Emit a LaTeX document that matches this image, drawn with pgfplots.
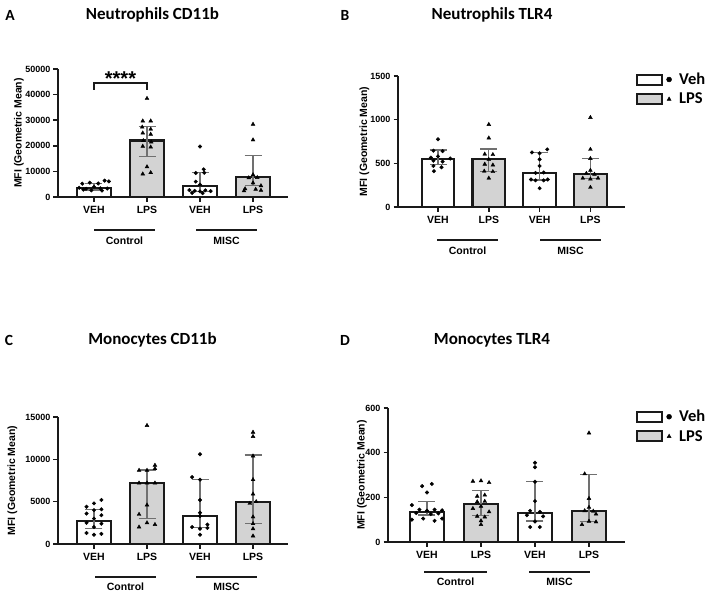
\documentclass[border=0pt]{standalone}
\usepackage{fontspec}
\setmainfont{Liberation Sans}
\newfontfamily\calfont{Carlito}
\usepackage{pgfplots}
\pgfplotsset{compat=1.18}

\definecolor{barline}{HTML}{1A1A1A}
\definecolor{lpsfill}{HTML}{D3D3D3}
\definecolor{errgray}{HTML}{707070}
\newcommand{\fs}[1]{\fontsize{#1}{#1}\selectfont}

\pgfplotsset{
  panel/.style={
    scale only axis, clip=false,
    axis x line=bottom, axis y line=left,
    axis line style={-, line width=2pt, barline},
    ymin=0, enlargelimits=false,
    xtick={1,2,3,4}, xticklabels={VEH,LPS,VEH,LPS},
    tick align=outside, major tick length=4.5pt,
    tick style={line width=1.5pt, barline},
    xticklabel style={font=\bfseries\fs{10.5}, yshift=-1.5pt},
    yticklabel style={font=\bfseries\fs{9}, xshift=0.5pt},
    /pgf/number format/assume math mode=true,
    /pgf/number format/1000 sep={},
    scaled y ticks=false,
    ylabel={MFI (Geometric Mean)},
    every axis y label/.style={rotate=90, anchor=center, font=\bfseries\fs{10.5}},
  },
  barveh/.style={ybar, bar shift=0pt, draw=barline, line width=2.2pt, fill=white, forget plot},
  barlps/.style={ybar, bar shift=0pt, draw=barline, line width=2.2pt, fill=lpsfill, forget plot},
  err/.style={draw=none, mark=none, forget plot,
    error bars/.cd, y dir=both, y explicit,
    error bar style={draw=errgray, line width=1.1pt},
    error mark options={rotate=90, mark size=8.5pt, draw=errgray, line width=1.1pt}},
  dots/.style={only marks, mark=*, mark size=1.8pt, black, forget plot},
  tris/.style={only marks, mark=triangle*, mark size=2.2pt, black, forget plot},
  lgd/.style={legend style={at={#1}, anchor=north west, draw=none, fill=none,
    font=\calfont\bfseries\fs{16.5}, row sep=3pt, inner sep=0pt,
    /tikz/every odd column/.append style={column sep=5.5pt}},
    legend cell align=left},
}
\newcommand{\legendpair}{%
  \addlegendimage{legend image code/.code={\draw[line width=2pt, draw=barline, fill=white] (0pt,-5pt) rectangle (25pt,5pt); \draw[black, mark=*, mark size=2.5pt] plot coordinates {(32pt,0pt)};}}
  \addlegendentry{Veh}
  \addlegendimage{legend image code/.code={\draw[line width=2pt, draw=barline, fill=lpsfill] (0pt,-5pt) rectangle (25pt,5pt); \draw[black, mark=triangle*, mark size=2.3pt] plot coordinates {(32pt,0pt)};}}
  \addlegendentry{LPS}
}

\begin{document}
\begin{tikzpicture}
\path[use as bounding box] (0pt,0pt) rectangle (708pt,-594pt);

% ---------------- A: Neutrophils CD11b
\begin{axis}[panel, at={(58pt,-197pt)}, anchor=south west,
  width=230pt, height=128pt, xmin=0.321, xmax=4.66, ymax=50000,
  ytick={0,10000,...,50000}, bar width=0.645,
  ylabel style={at={(axis description cs:-0.17,0.5)}}]
  \addplot[barveh] coordinates {(1,3640) (3,4300)};
  \addplot[barlps] coordinates {(2,22100) (4,7950)};
  \addplot[err] coordinates {(1,3640) += (0,1710) -= (0,910)
    (2,22100) += (0,5500) -= (0,6350)
    (3,4300) += (0,5400) -= (0,2300)
    (4,7950) += (0,8150) -= (0,3550)};
  \addplot[dots] coordinates {(0.78,5200)(0.92,5600)(1.08,5300)(1.2,6400)(1.28,6100)(0.72,3600)(0.85,3200)(1.0,3900)(1.12,3400)(1.25,3300)(0.8,2900)(0.95,2600)(1.15,2500)};
  \addplot[tris] coordinates {(2,38500)(1.92,29700)(2.07,29700)(1.91,27300)(2.07,26500)(1.92,25000)(2.07,24500)(1.93,22000)(2.08,21500)(1.92,19800)(2.07,19500)(2,11800)(1.92,9000)(2.07,9500)};
  \addplot[dots] coordinates {(3,19700)(2.92,9400)(3.07,10800)(3.08,9500)(2.92,6000)(3,4800)(2.8,2700)(2.9,2400)(3,2200)(3.1,2600)(3.2,2300)(2.85,1600)(3.05,1500)};
  \addplot[tris] coordinates {(4,28400)(4,22300)(4,8700)(3.92,7500)(4.08,7600)(4,5500)(4.15,4400)(3.85,3200)(4.15,2600)(3.83,2400)(4.05,3000)};
  \draw[line width=1.3pt, barline] (axis cs:1,41900) |- (axis cs:2,44500) -| (axis cs:2,41900);
  \node[font=\bfseries\fs{20}] at (axis cs:1.5,46100) {****};
\end{axis}

% ---------------- B: Neutrophils TLR4
\begin{axis}[panel, at={(398pt,-207pt)}, anchor=south west,
  width=227pt, height=131pt, xmin=0.2126, xmax=4.681, ymax=1500,
  ytick={0,500,1000,1500}, bar width=0.643,
  ylabel style={at={(axis description cs:-0.148,0.5)}},
  lgd={(rel axis cs:1.048,1.04)}]
  \legendpair
  \addplot[barveh] coordinates {(1,546) (3,385)};
  \addplot[barlps] coordinates {(2,550) (4,374)};
  \addplot[err] coordinates {(1,546) += (0,107) -= (0,56)
    (2,550) += (0,114) -= (0,146)
    (3,385) += (0,237) -= (0,76)
    (4,374) += (0,179) -= (0,49)};
  \addplot[dots] coordinates {(1,775)(0.91,645)(1.09,640)(0.86,565)(1,580)(1.24,555)(0.91,530)(1.09,520)(0.91,470)(1.07,455)(0.92,410)};
  \addplot[tris] coordinates {(2,945)(2,790)(1.92,605)(2.08,600)(2,545)(1.92,490)(2.08,480)(1.91,410)(2.08,405)(2,330)};
  \addplot[dots] coordinates {(2.85,625)(3,615)(3.15,660)(3,545)(3,470)(2.92,390)(3.08,395)(2.83,315)(2.92,305)(3.08,305)(3.16,315)(3,215)};
  \addplot[tris] coordinates {(4,1025)(4,660)(4,555)(4,420)(3.92,385)(4.08,375)(3.85,330)(4,320)(4.15,330)(4,225)};
\end{axis}

% ---------------- C: Monocytes CD11b
\begin{axis}[panel, at={(58pt,-544pt)}, anchor=south west,
  width=230pt, height=127pt, xmin=0.321, xmax=4.66, ymax=15000,
  ytick={0,5000,10000,15000}, bar width=0.645,
  ylabel style={at={(axis description cs:-0.198,0.5)}}]
  \addplot[barveh] coordinates {(1,2716) (3,3300)};
  \addplot[barlps] coordinates {(2,7165) (4,4920)};
  \addplot[err] coordinates {(1,2716) += (0,1384) -= (0,866)
    (2,7165) += (0,1575) -= (0,4175)
    (3,3300) += (0,4340) -= (0,1400)
    (4,4920) += (0,5590) -= (0,2480)};
  \addplot[dots] coordinates {(1.14,5200)(1,4800)(0.86,4400)(1,4000)(1.14,4100)(0.86,3600)(1.14,3400)(1,3000)(0.86,2500)(1.14,2400)(1,2000)(0.86,1300)(1.14,1200)(1,1100)};
  \addplot[tris] coordinates {(2,14000)(2.15,9300)(2.15,8900)(1.85,8700)(2,8700)(1.85,7200)(2,7200)(2.15,7200)(2,4600)(1.85,3500)(1.85,2000)(2,2500)(2.15,2300)};
  \addplot[dots] coordinates {(3,10600)(2.85,7900)(3,7600)(3,5200)(3,3700)(3,3300)(2.85,2000)(3,1800)(3.14,2300)(3.14,1900)(3,1100)};
  \addplot[tris] coordinates {(4,13200)(4,12700)(4,10400)(4,7600)(4,5900)(3.94,4800)(4.06,5000)(4,3200)(4,2400)(4,1800)(4,950)};
\end{axis}

% ---------------- D: Monocytes TLR4
\begin{axis}[panel, at={(388pt,-542pt)}, anchor=south west,
  width=237pt, height=134pt, xmin=0.278, xmax=4.667, ymax=600,
  ytick={0,200,400,600}, bar width=0.617,
  ylabel style={at={(axis description cs:-0.11,0.5)}},
  lgd={(rel axis cs:1.046,1.0)}]
  \legendpair
  \addplot[barveh] coordinates {(1,134) (3,131)};
  \addplot[barlps] coordinates {(2,169) (4,140)};
  \addplot[err] coordinates {(1,134) += (0,46.5) -= (0,13)
    (2,169) += (0,61) -= (0,51)
    (3,131) += (0,139) -= (0,37)
    (4,140) += (0,164) -= (0,49)};
  \addplot[dots] coordinates {(0.91,250)(1.09,260)(1,222)(0.72,165)(0.86,145)(1,140)(1.14,145)(1.28,142)(0.8,130)(1.07,125)(1.21,128)(0.72,100)(0.93,105)(1.14,95)(1.28,105)};
  \addplot[tris] coordinates {(1.85,272)(2,274)(2.15,266)(1.93,205)(2.07,210)(1.93,180)(2.07,182)(2,160)(1.85,150)(2.15,135)(1.93,115)(2.07,112)(2,95)(2,78)};
  \addplot[dots] coordinates {(3,355)(3,335)(3,270)(3,183)(2.91,140)(3.09,135)(2.85,120)(3.15,115)(3,92)(2.91,67)(3.09,67)};
  \addplot[tris] coordinates {(4,488)(3.92,305)(4,195)(4,155)(3.92,140)(4.08,138)(4.13,125)(3.87,78)(4,93)(4.13,90)};
\end{axis}

% ---------------- titles and panel letters
\begin{scope}[font=\calfont\bfseries\fs{17}]
  \node at (152.5pt,-15pt) {Neutrophils CD11b};
  \node at (492pt,-15pt) {Neutrophils TLR4};
  \node at (152.5pt,-340pt) {Monocytes CD11b};
  \node at (492pt,-340pt) {Monocytes TLR4};
\end{scope}
\begin{scope}[font=\calfont\bfseries\fs{15.5}]
  \node at (10pt,-15pt) {A};
  \node at (345pt,-15pt) {B};
  \node at (9pt,-340pt) {C};
  \node at (345pt,-340pt) {D};
\end{scope}

% ---------------- group underlines
\begin{scope}[line width=2pt, barline]
  \draw (94pt,-229.5pt) -- (155pt,-229.5pt);
  \draw (196pt,-229.5pt) -- (257pt,-229.5pt);
  \draw (437pt,-239.5pt) -- (498pt,-239.5pt);
  \draw (540pt,-239.5pt) -- (601pt,-239.5pt);
  \draw (95pt,-576.7pt) -- (156pt,-576.7pt);
  \draw (196pt,-576.7pt) -- (257pt,-576.7pt);
  \draw (424pt,-571.7pt) -- (487pt,-571.7pt);
  \draw (529pt,-571.7pt) -- (590pt,-571.7pt);
\end{scope}
\begin{scope}[font=\bfseries\fs{10.5}]
  \node at (124.5pt,-240.5pt) {Control};
  \node at (226.5pt,-240.5pt) {MISC};
  \node at (467.5pt,-250.5pt) {Control};
  \node at (570.5pt,-250.5pt) {MISC};
  \node at (125.5pt,-586.5pt) {Control};
  \node at (226.5pt,-586.5pt) {MISC};
  \node at (455.5pt,-581.5pt) {Control};
  \node at (559.5pt,-581.5pt) {MISC};
\end{scope}
\end{tikzpicture}
\end{document}
